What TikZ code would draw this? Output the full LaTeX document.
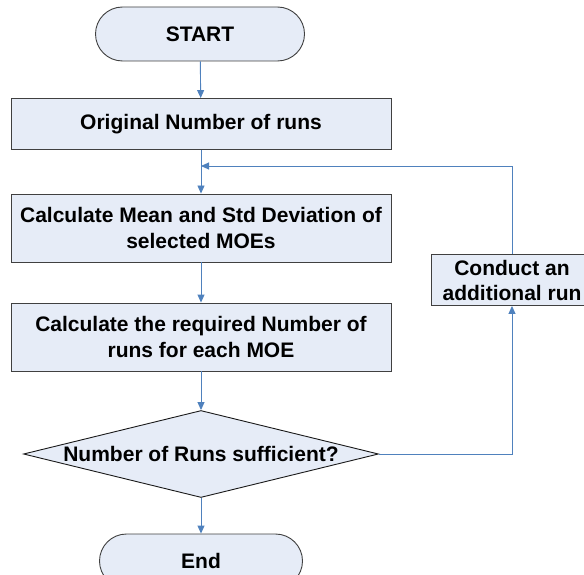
\documentclass[tikz,border=0pt]{standalone}
\usepackage{fontspec}
\setmainfont{Liberation Sans}
\usetikzlibrary{shapes.geometric,arrows.meta}
\definecolor{flowfill}{RGB}{230,236,247}
\definecolor{flowline}{RGB}{79,129,189}
\tikzset{
    box/.style={draw=black!75,fill=flowfill,line width=0.9pt,minimum width=380pt,minimum height=51pt,align=center,font=\fontsize{21}{26}\selectfont\bfseries},
    terminal/.style={box,rounded corners=27pt,minimum width=209pt,minimum height=54pt},
    decision/.style={draw=black!90,fill=flowfill,line width=0.9pt,diamond,aspect=4.1,inner sep=0pt,minimum width=355pt,minimum height=87pt,font=\fontsize{21}{26}\selectfont\bfseries},
    flow/.style={draw=flowline,line width=0.9pt,-{Triangle[length=8pt,width=7pt]}}
}
\begin{document}
\begin{tikzpicture}[x=1pt,y=-1pt]
        \useasboundingbox (0,0) rectangle (584,575);
        \node[terminal] (start) at (200,34) {START};
        \node[box] (orig) at (201,124) {Original Number of runs};
        \node[box,minimum height=68pt] (mean) at (201,228) {Calculate Mean and Std Deviation of\\selected MOEs};
        \node[box,minimum height=68pt] (req) at (201,337) {Calculate the required Number of\\runs for each MOE};
        \node[decision] (check) at (201,454) {Number of Runs sufficient?};
        \node[terminal,minimum width=203pt] (stop) at (201,561) {End};
        \node[box,minimum width=162pt,minimum height=51pt,font=\fontsize{21}{25}\selectfont\bfseries] (extra) at (512,280) {Conduct an\\additional run};
        \coordinate (join) at (201,166);
        % main line
        \draw[flow] (start) -- (orig);
        \draw[flow] (orig) -- (mean);
        \draw[flow] (mean) -- (req);
        \draw[flow] (req) -- (check);
        \draw[flow] (check) -- (stop);
        % loop back
        \draw[flow] (check.east) -| (extra.south);
        \draw[flow] (extra.north) |- (join);
    \end{tikzpicture}
\end{document}
